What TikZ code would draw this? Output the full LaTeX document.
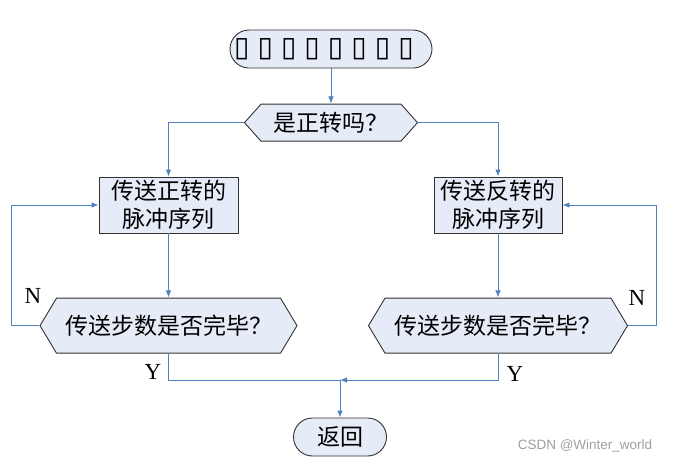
\documentclass[tikz,border=0pt]{standalone}
\usepackage{fontspec}
\setmainfont{Liberation Serif}
\newfontfamily\cjk{Noto Sans CJK SC}
\newfontfamily\symfont{DejaVu Sans}
\newfontfamily\markfont{Liberation Sans}
\usetikzlibrary{positioning,arrows.meta}

\definecolor{boxfill}{RGB}{230,236,247}
\definecolor{flowblue}{RGB}{79,129,189}
\definecolor{edgegray}{RGB}{50,50,50}

\newcommand{\tofubox}{\makebox[23.5pt]{\symfont\fontsize{28}{28}\selectfont ▯}}

\tikzset{
  terminal/.style={rectangle, rounded corners=19pt, draw=edgegray, fill=boxfill,
    line width=0.9pt, minimum height=38pt, inner sep=0pt},
  process/.style={rectangle, draw=edgegray, fill=boxfill, line width=0.9pt,
    minimum height=56pt, inner sep=0pt, align=center},
  decide/.style={rectangle, inner sep=0pt, path picture={
    \path[fill=boxfill, draw=edgegray, line width=0.9pt]
      ([xshift=.5pt]path picture bounding box.west)
      -- ([xshift=17pt,yshift=-.5pt]path picture bounding box.north west)
      -- ([xshift=-17pt,yshift=-.5pt]path picture bounding box.north east)
      -- ([xshift=-.5pt]path picture bounding box.east)
      -- ([xshift=-17pt,yshift=.5pt]path picture bounding box.south east)
      -- ([xshift=17pt,yshift=.5pt]path picture bounding box.south west)
      -- cycle;}},
  flow/.style={draw=flowblue, line width=0.9pt, -{Latex[length=7pt,width=5.5pt]}},
  link/.style={draw=flowblue, line width=0.9pt},
  yn/.style={inner sep=0pt, font=\fontsize{23}{23}\selectfont}
}

\begin{document}
\begin{tikzpicture}[x=1pt, y=-1pt, font=\cjk\fontsize{23}{28}\selectfont]
\useasboundingbox (0,0) rectangle (683,464);

\node[terminal, minimum width=194pt] (start) at (331,49) {\tofubox\tofubox\tofubox\tofubox\tofubox\tofubox\tofubox\tofubox\hspace*{14pt}};
\node[decide, minimum width=174pt, minimum height=38pt, below=35pt of start] (dir) {是正转吗？};

\node[process, minimum width=139pt] (fwd) at (168.5,205) {传送正转的\\脉冲序列};
\node[process, minimum width=128pt] (rev) at (498,205) {传送反转的\\脉冲序列};

\node[decide, minimum width=258pt, minimum height=56pt, below=64pt of fwd] (chk1) {传送步数是否完毕？};
\node[decide, minimum width=260pt, minimum height=56pt, below=64pt of rev] (chk2) {传送步数是否完毕？};

\coordinate (join) at (340,380);
\node[terminal, minimum width=93pt] (ret) at (340,437) {返回};

% labels
\node[yn] (n1) at (33,296) {N};
\node[yn] (n2) at (637,298) {N};
\node[yn] (y1) at (153,372) {Y};
\node[yn] (y2) at (515,374) {Y};
\node[text=gray!75, font=\markfont\fontsize{13.5}{13.5}\selectfont] (mark) at (585,446) {CSDN @Winter\_world};

% connectors
\draw[flow] (start) -- (dir);
\draw[flow] (dir.west) -| (fwd.north);
\draw[flow] (dir.east) -| (rev.north);
\draw[flow] (fwd) -- (chk1);
\draw[flow] (rev) -- (chk2);
\draw[flow] (chk1.west) -- ++(-28,0) |- (fwd.west);
\draw[flow] (chk2.east) -- ++(28,0) |- (rev.east);
\draw[link] (chk1.south) |- (join);
\draw[flow] (chk2.south) |- (join);
\draw[flow] (join) -- (ret);
\end{tikzpicture}
\end{document}
